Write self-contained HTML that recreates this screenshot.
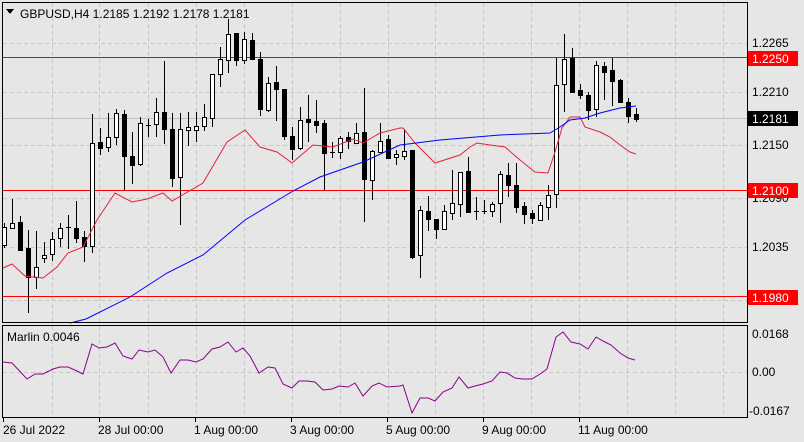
<!DOCTYPE html>
<html><head><meta charset="utf-8"><style>
html,body{margin:0;padding:0;background:#e6e6e6;width:804px;height:442px;overflow:hidden}
svg{display:block;font-family:"Liberation Sans",sans-serif;font-size:12px}
</style></head><body>
<svg id="s" width="804" height="442" xmlns="http://www.w3.org/2000/svg" shape-rendering="crispEdges">
<rect width="804" height="442" fill="#e6e6e6"/>
<g id="grid" stroke="#c6c6c6" stroke-dasharray="4,3"></g>
<line x1="3" y1="118.5" x2="747" y2="118.5" stroke="#c0c0c0"/>
<g stroke="#ff0000" stroke-width="1.3">
<line x1="3" y1="57.5" x2="747" y2="57.5"/>
<line x1="3" y1="190.5" x2="747" y2="190.5"/>
<line x1="3" y1="296.5" x2="747" y2="296.5"/>
</g>
<g id="c"></g>
<polyline shape-rendering="auto" fill="none" stroke="#e8203c" stroke-width="1" points="3,268 12,264 25,276 43,278 57,267 68,253 83,247 97,220 115,193 132,202 147,199 163,193 172,201 203,183 227,142 245,130 260,147 277,152 292,163 313,145 333,147 353,139 363,143 380,133 400,128 403,128 415,143 435,163 460,155 470,147 477,143 490,145 505,147 520,160 535,172 548,173 555,152 562,128 570,117 580,117 585,127 600,132 610,137 620,145 630,152 636,154"/>
<polyline shape-rendering="auto" fill="none" stroke="#0000ff" stroke-width="1" points="70,323 86,319 130,297 167,273 203,255 245,220 293,191 320,177 363,162 400,145 440,140 500,135 550,133 560,127 570,120 585,118 600,113 620,108 636,106"/>
<polyline shape-rendering="auto" fill="none" stroke="#8b008b" stroke-width="1" points="3,362 12,363 27,379 35,374 43,374 53,369 60,367 68,367 77,371 83,374 92,344 99,348 107,347 115,343 123,356 132,359 139,350 148,352 155,350 163,357 171,373 180,360 188,360 196,362 203,359 212,349 220,347 228,342 236,352 243,348 250,356 259,373 268,367 275,368 283,384 292,388 299,381 307,381 315,382 323,390 332,389 339,386 348,387 355,383 363,396 372,386 379,383 387,387 400,386 403,385 412,413 420,398 428,398 435,401 443,392 452,388 459,377 468,388 475,386 483,384 492,381 500,372 507,373 515,378 523,379 532,379 540,374 547,369 556,337 563,332 571,342 580,344 588,349 596,337 603,341 611,345 620,353 628,358 635,360"/>
<g fill="none" stroke="#000">
<rect x="2.5" y="2.5" width="745" height="320"/>
<rect x="2.5" y="325.5" width="745" height="92"/>
</g>
<path d="M6 9 L14 9 L10 14 Z" fill="#000"/>
<text x="20" y="18" fill="#000">GBPUSD,H4  1.2185 1.2192 1.2178 1.2181</text>
<text x="7" y="341" fill="#000">Marlin 0.0046</text>
<g fill="#000">
<text x="752" y="47">1.2265</text>
<text x="752" y="96">1.2210</text>
<text x="752" y="149">1.2150</text>
<text x="752" y="202">1.2090</text>
<text x="752" y="251">1.2035</text>
<text x="752" y="304">1.1970</text>
<text x="752" y="338">0.0168</text>
<text x="752" y="376">0.00</text>
<text x="749" y="415">-0.0167</text>
</g>
<rect x="748" y="51" width="50" height="15" fill="#ff0000"/>
<text x="752" y="63" fill="#fff">1.2250</text>
<rect x="748" y="111" width="50" height="15" fill="#000"/>
<text x="752" y="123" fill="#fff">1.2181</text>
<rect x="748" y="183" width="50" height="15" fill="#ff0000"/>
<text x="752" y="195" fill="#fff">1.2100</text>
<rect x="748" y="290" width="50" height="15" fill="#ff0000"/>
<text x="752" y="302" fill="#fff">1.1980</text>
<g stroke="#000" id="ticks"></g>
<g fill="#000">
<text x="3" y="434">26 Jul 2022</text>
<text x="98" y="434">28 Jul 00:00</text>
<text x="194" y="434">1 Aug 00:00</text>
<text x="290" y="434">3 Aug 00:00</text>
<text x="386" y="434">5 Aug 00:00</text>
<text x="482" y="434">9 Aug 00:00</text>
<text x="578" y="434">11 Aug 00:00</text>
</g>
</svg>
<script>
var NS="http://www.w3.org/2000/svg";
function el(p,t,a){var e=document.createElementNS(NS,t);for(var k in a)e.setAttribute(k,a[k]);p.appendChild(e);return e;}
var g=document.getElementById("grid");
[52,99,148,196,244,292,340,388,435,483,531,579,627,675,723].forEach(function(x){el(g,"line",{x1:x+.5,y1:3,x2:x+.5,y2:322});el(g,"line",{x1:x+.5,y1:326,x2:x+.5,y2:417});});
[43,92,145,198,247,300].forEach(function(y){el(g,"line",{x1:3,y1:y+.5,x2:747,y2:y+.5});});
el(g,"line",{x1:3,y1:372.5,x2:747,y2:372.5});
var tk=document.getElementById("ticks");
[3,99,195,291,387,483,579].forEach(function(x){el(tk,"line",{x1:x+.5,y1:418,x2:x+.5,y2:422});});
// [high, low, bodyTop, bodyBottom, bull]
var D=[[223,247,227,245,1],[199,228,223,228,1],[216,250,222,250,0],[230,312,248,277,0],[231,288,267,277,1],[242,262,255,258,1],[232,260,239,254,1],[223,246,228,238,1],[215,248,227,227,1],[201,242,228,238,0],
[231,261,237,246,0],[114,252,143,246,1],[128,154,142,148,0],[113,151,137,147,1],[109,144,113,137,1],[110,189,114,156,0],[132,183,156,165,0],[117,165,123,164,1],[119,136,125,125,1],[98,136,112,124,1],
[61,143,112,129,0],[113,186,129,178,0],[113,224,129,177,1],[112,145,127,130,1],[112,141,126,130,1],[104,130,117,126,1],[74,126,74,118,1],[47,86,59,74,1],[19,72,34,60,1],[33,65,33,60,0],
[32,63,39,60,1],[33,59,40,59,0],[52,115,59,109,0],[77,111,83,110,1],[66,120,82,89,0],[89,139,89,136,0],[127,159,136,149,0],[107,149,120,148,1],[95,141,119,122,0],[100,132,121,125,0],
[120,189,123,153,0],[142,157,152,152,1],[136,158,138,152,1],[132,148,137,141,0],[123,143,133,143,1],[88,221,132,179,0],[150,199,151,180,1],[123,152,141,152,1],[135,158,139,158,0],[150,164,154,157,1],
[129,159,151,156,1],[150,258,150,257,0],[206,277,210,255,1],[196,230,211,219,0],[219,238,219,229,0],[205,229,211,229,1],[170,219,203,213,1],[172,216,172,204,1],[157,212,171,212,0],[197,219,211,211,1],
[200,213,211,211,1],[202,216,204,211,1],[171,222,174,203,1],[163,196,175,185,0],[163,212,185,207,0],[202,223,206,214,0],[210,223,213,218,0],[202,220,205,220,1],[185,219,195,207,1],[58,207,85,194,1],
[34,111,59,84,1],[48,92,58,92,0],[84,98,90,95,0],[92,119,95,110,0],[61,116,65,109,1],[62,99,66,72,0],[58,105,70,81,0],[79,102,80,102,0],[98,122,102,116,0],[108,121,114,119,0]];
var c=document.getElementById("c");
D.forEach(function(d,i){var x=4+8*i;
el(c,"line",{x1:x+.5,y1:d[0],x2:x+.5,y2:d[1]+1,stroke:"#000"});
var h=Math.max(d[3]-d[2],0);
if(h<1){el(c,"line",{x1:x-2,y1:d[2]+.5,x2:x+3,y2:d[2]+.5,stroke:"#000"});}
else el(c,"rect",{x:x-2+.5,y:d[2]+.5,width:4,height:h,fill:d[4]?"#fff":"#000",stroke:"#000"});
});
</script>
</body></html>
